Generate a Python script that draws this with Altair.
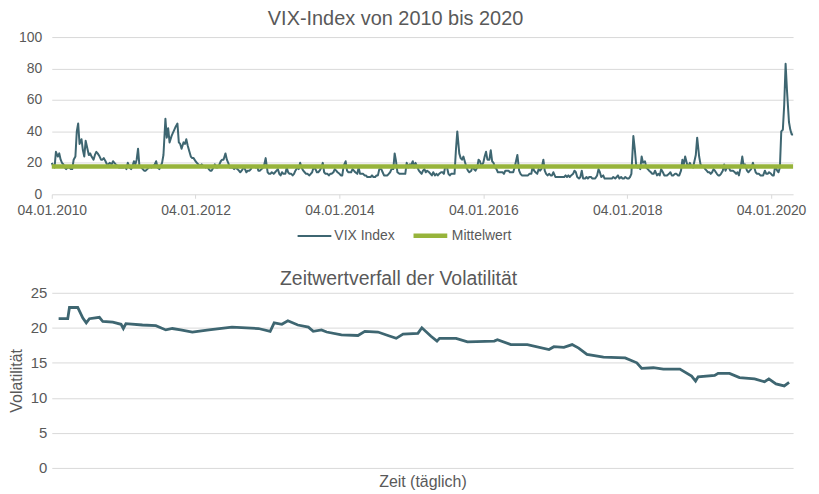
import altair as alt
import pandas as pd

# ---- VIX index, four readings per month (2010-01 .. 2020-04) ----
vix_2010 = [20, 18, 17, 27, 24, 26, 22, 20, 19, 17, 16, 17, 17, 16, 16, 22,
            24, 40, 45, 32, 35, 28, 24, 34, 29, 25, 26, 24, 22, 25, 27, 26,
            24, 22, 22, 23, 21, 19, 19, 20, 19, 21, 20, 19, 18, 17, 17, 17]
vix_2011 = [17, 18, 16, 20, 17, 16, 18, 21, 19, 22, 29, 18, 17, 16, 15, 15,
            16, 17, 18, 17, 18, 19, 21, 17, 16, 18, 20, 25, 48, 36, 42, 33,
            37, 39, 41, 43, 45, 33, 32, 29, 33, 32, 35, 31, 27, 24, 23, 23]
vix_2012 = [21, 20, 19, 18, 19, 18, 18, 17, 18, 16, 15, 15, 17, 19, 17, 17,
            19, 21, 22, 22, 26, 22, 20, 17, 17, 17, 16, 17, 16, 15, 14, 15,
            17, 16, 14, 15, 15, 16, 18, 18, 17, 18, 15, 15, 16, 17, 19, 23]
vix_2013 = [14, 13, 13, 14, 13, 14, 15, 16, 13, 12, 14, 13, 13, 17, 14, 13,
            13, 12, 13, 15, 17, 16, 20, 17, 15, 14, 13, 13, 12, 13, 14, 17,
            16, 14, 14, 15, 17, 20, 14, 13, 13, 12, 13, 13, 14, 16, 15, 14]
vix_2014 = [13, 12, 12, 18, 21, 15, 14, 14, 14, 16, 15, 14, 13, 17, 13, 13,
            13, 12, 12, 11, 11, 11, 12, 11, 11, 12, 12, 16, 16, 14, 12, 12,
            12, 13, 14, 16, 16, 26, 21, 14, 13, 13, 13, 13, 13, 20, 17, 19]
vix_2015 = [19, 21, 17, 20, 17, 15, 14, 13, 15, 16, 14, 15, 14, 13, 12, 14,
            12, 13, 12, 13, 14, 14, 13, 18, 17, 13, 12, 13, 13, 13, 28, 40,
            26, 23, 22, 24, 20, 17, 15, 14, 15, 18, 16, 15, 17, 22, 21, 18]
vix_2016 = [20, 24, 27, 22, 22, 28, 21, 20, 17, 16, 14, 14, 14, 14, 13, 15,
            15, 15, 14, 14, 14, 17, 21, 25, 15, 13, 12, 12, 12, 12, 12, 13,
            13, 18, 15, 14, 13, 16, 15, 16, 22, 15, 13, 12, 13, 12, 12, 14]
vix_2017 = [11, 11, 11, 11, 11, 11, 11, 12, 11, 12, 11, 12, 13, 15, 14, 11,
            10, 11, 15, 10, 10, 11, 10, 11, 11, 10, 10, 10, 12, 16, 14, 11,
            12, 10, 10, 10, 10, 10, 10, 11, 10, 11, 12, 10, 11, 10, 10, 11]
vix_2018 = [10, 10, 11, 13, 37, 29, 19, 17, 18, 16, 24, 20, 21, 17, 16, 15,
            14, 13, 13, 15, 12, 13, 12, 16, 14, 12, 12, 12, 13, 14, 12, 12,
            13, 13, 12, 12, 15, 22, 19, 24, 19, 18, 20, 18, 17, 21, 25, 36]
vix_2019 = [24, 19, 18, 18, 16, 15, 14, 14, 13, 14, 16, 15, 13, 12, 12, 13,
            15, 19, 15, 17, 17, 15, 15, 15, 14, 13, 14, 12, 18, 24, 18, 19,
            15, 14, 15, 16, 20, 17, 14, 13, 13, 12, 12, 12, 15, 13, 13, 14]
vix_2020 = [13, 12, 12, 18, 15, 14, 17, 40, 41, 57, 83, 66, 46, 41, 38, 38]

mean_value = 17.6  # "Mittelwert" level

# ---- Time decay of volatility (bottom chart) ----
decay_day = [0, 32, 38, 67, 85, 97, 108, 143, 155, 190, 219, 227, 236, 294, 341,
             376, 399, 428, 469, 527, 608, 701, 742, 756, 783, 804, 839, 876, 893,
             922, 940, 992, 1050, 1074, 1120, 1155, 1184, 1208, 1260, 1274, 1306,
             1327, 1336, 1394, 1434, 1528, 1539, 1586, 1644, 1720, 1737, 1772, 1801,
             1824, 1853, 1911, 1987, 2028, 2045, 2086, 2121, 2179, 2220, 2234, 2243,
             2301, 2313, 2353, 2388, 2441, 2476, 2491, 2516, 2545, 2562]
decay_vol = [21.3, 21.3, 22.9, 22.9, 21.4, 20.7, 21.3, 21.5, 20.9, 20.8, 20.5, 19.9,
             20.6, 20.4, 20.3, 19.7, 19.9, 19.7, 19.4, 19.7, 20.1, 19.9, 19.5, 20.7,
             20.5, 21.0, 20.4, 20.1, 19.5, 19.7, 19.4, 19.0, 18.9, 19.5, 19.4, 18.9,
             18.5, 19.1, 19.2, 20.0, 18.8, 18.1, 18.5, 18.5, 18.0, 18.1, 18.3, 17.6,
             17.6, 16.9, 17.3, 17.2, 17.6, 17.1, 16.2, 15.8, 15.7, 15.0, 14.2, 14.3,
             14.1, 14.1, 13.1, 12.4, 13.0, 13.2, 13.5, 13.5, 12.9, 12.7, 12.3, 12.7,
             12.0, 11.7, 12.2]

series_names = ["VIX Index", "Mittelwert"]
series_colors = ["#3E6671", "#97B43B"]
series_widths = [2, 4.5]
year_ticks = [2010, 2012, 2014, 2016, 2018, 2020]

TEXT = "#595959"
GRID = "#D9D9D9"
FONT = "Liberation Sans"

# ---- build tables ----
rows = []
for year, vals in [(2010, vix_2010), (2011, vix_2011), (2012, vix_2012), (2013, vix_2013),
                   (2014, vix_2014), (2015, vix_2015), (2016, vix_2016), (2017, vix_2017),
                   (2018, vix_2018), (2019, vix_2019), (2020, vix_2020)]:
    for i, v in enumerate(vals):
        rows.append({"date": pd.Timestamp(year, i // 4 + 1, [4, 11, 18, 25][i % 4]),
                     "value": v, "series": "VIX Index"})
vix_df = pd.DataFrame(rows)
mean_df = pd.DataFrame({"date": [vix_df["date"].min(), vix_df["date"].max()],
                        "value": [mean_value, mean_value],
                        "series": ["Mittelwert", "Mittelwert"]})
decay_df = pd.DataFrame({"day": decay_day, "vol": decay_vol})

color_scale = alt.Scale(domain=series_names, range=series_colors)
width_scale = alt.Scale(domain=series_names, range=series_widths)
leg = alt.Legend(title=None, orient="none", direction="horizontal", legendX=246, legendY=180,
                 symbolType="stroke", symbolSize=1150, labelFontSize=14, labelColor=TEXT,
                 labelFont=FONT, columnPadding=9, labelOffset=2)

x_top = alt.X("date:T",
              scale=alt.Scale(domain=[alt.DateTime(year=2010, month=1, date=4),
                                      alt.DateTime(year=2020, month=4, date=25)]),
              axis=alt.Axis(values=[alt.DateTime(year=y, month=1, date=4) for y in year_ticks],
                            format="%d.%m.%Y", title=None, grid=False, domain=False,
                            tickColor=GRID, tickSize=4, labelPadding=5, labelFlush=False,
                            labelFontSize=14))
y_top = alt.Y("value:Q", scale=alt.Scale(domain=[0, 100]),
              axis=alt.Axis(values=[0, 20, 40, 60, 80, 100], title=None, ticks=False,
                            domain=False, labelPadding=10, labelFontSize=14))

vix_line = alt.Chart(vix_df).mark_line(strokeJoin="round").encode(
    x=x_top, y=y_top,
    color=alt.Color("series:N", scale=color_scale, legend=leg),
    strokeWidth=alt.StrokeWidth("series:N", scale=width_scale, legend=leg),
)
mean_line = alt.Chart(mean_df).mark_line().encode(
    x=x_top, y=y_top,
    color=alt.Color("series:N", scale=color_scale, legend=leg),
    strokeWidth=alt.StrokeWidth("series:N", scale=width_scale, legend=leg),
)
top = alt.layer(vix_line, mean_line).properties(
    width=745, height=158,
    title=alt.TitleParams("VIX-Index von 2010 bis 2020", fontSize=20, dx=-27, offset=1),
)

bottom = alt.Chart(decay_df).mark_line(color="#3E6671", strokeWidth=2.8).encode(
    x=alt.X("day:Q", scale=alt.Scale(domain=[-24, 2576], nice=False),
            axis=alt.Axis(labels=False, ticks=False, grid=False, domain=False,
                          title="Zeit (täglich)", titleFontSize=16, titlePadding=6)),
    y=alt.Y("vol:Q", scale=alt.Scale(domain=[0, 25]),
            axis=alt.Axis(values=[0, 5, 10, 15, 20, 25], title="Volatilität", titleFontSize=16,
                          ticks=False, domain=False, labelPadding=5, labelFontSize=15,
                          titlePadding=6)),
).properties(
    width=745, height=176,
    title=alt.TitleParams("Zeitwertverfall der Volatilität", fontSize=19.5, dx=-24, offset=-4),
)

chart = alt.vconcat(top, bottom, spacing=52).properties(
    padding={"left": 0, "top": 0, "right": 5, "bottom": 0}
).configure(font=FONT).configure_view(stroke=None).configure_axis(
    labelColor=TEXT, titleColor=TEXT, gridColor=GRID, labelFont=FONT, titleFont=FONT,
    titleFontWeight="normal"
).configure_title(color=TEXT, fontWeight="normal", font=FONT, anchor="middle")

chart.save("out.html", embed_options={"renderer": "svg", "actions": False})
